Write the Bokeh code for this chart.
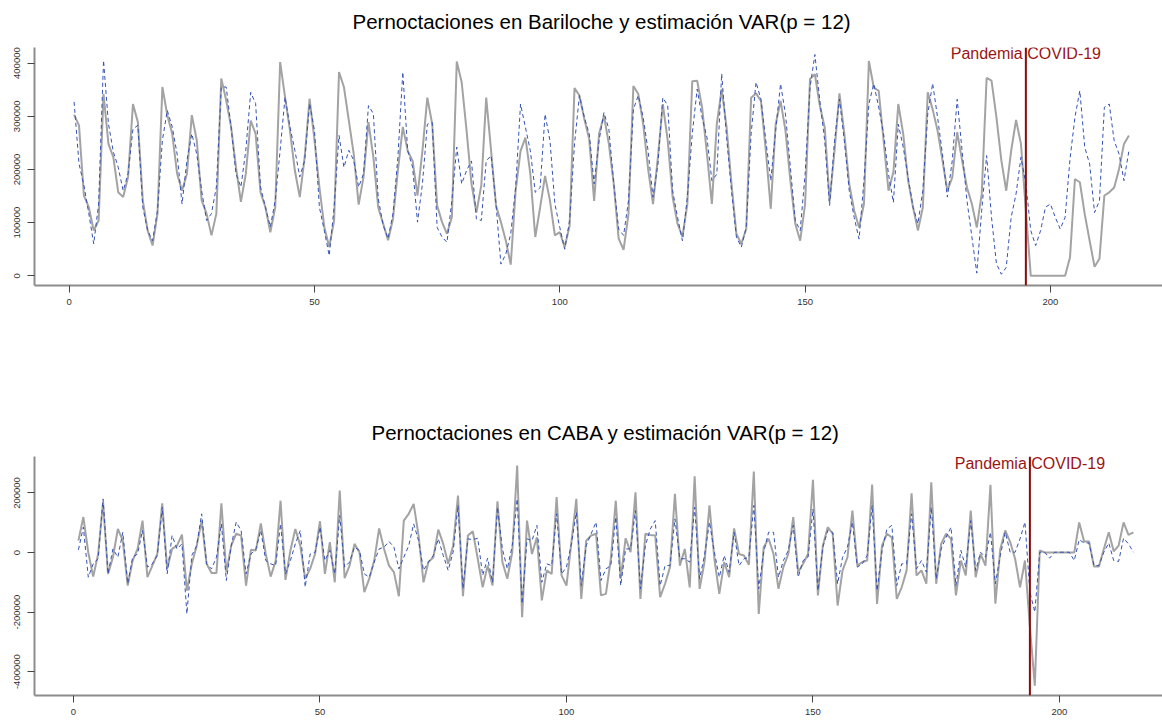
from bokeh.plotting import figure
from bokeh.layouts import column
from bokeh.models import Span, Label, FixedTicker, Range1d, NumeralTickFormatter, Title
from bokeh.embed import file_html
from bokeh.resources import INLINE

# ---------------- data ----------------
bariloche_real = [
    303000, 283000, 151000, 129000, 85000, 104000, 342000, 248000, 223000, 157000,
    148000, 186000, 323000, 289000, 142000, 85000, 57000, 117000, 355000, 302000,
    267000, 192000, 160000, 192000, 302000, 255000, 142000, 117000, 76000, 117000,
    371000, 330000, 280000, 204000, 139000, 192000, 292000, 267000, 157000, 129000,
    82000, 129000, 402000, 336000, 273000, 198000, 148000, 223000, 333000, 255000,
    167000, 92000, 54000, 104000, 383000, 355000, 292000, 229000, 134000, 186000,
    289000, 223000, 128000, 98000, 67000, 107000, 198000, 280000, 235000, 216000,
    151000, 235000, 335000, 285000, 132000, 101000, 79000, 110000, 403000, 364000,
    273000, 173000, 119000, 170000, 335000, 235000, 132000, 101000, 66000, 21000,
    160000, 235000, 260000, 191000, 73000, 129000, 188000, 141000, 76000, 82000,
    54000, 94000, 353000, 339000, 295000, 257000, 141000, 267000, 301000, 248000,
    173000, 70000, 49000, 116000, 357000, 342000, 285000, 201000, 135000, 223000,
    323000, 254000, 148000, 98000, 73000, 135000, 366000, 367000, 317000, 229000,
    135000, 285000, 351000, 279000, 173000, 79000, 60000, 88000, 335000, 343000,
    329000, 235000, 126000, 285000, 329000, 273000, 179000, 98000, 66000, 135000,
    370000, 379000, 320000, 279000, 141000, 235000, 343000, 267000, 173000, 123000,
    91000, 135000, 404000, 354000, 348000, 254000, 160000, 195000, 323000, 267000,
    179000, 129000, 85000, 129000, 345000, 313000, 273000, 217000, 160000, 185000,
    270000, 217000, 166000, 135000, 91000, 154000, 372000, 367000, 298000, 217000,
    160000, 235000, 293000, 248000, 123000, 0, 0, 0, 0, 0,
    0, 0, 0, 35000, 182000, 176000, 116000, 66000, 17000, 32000,
    151000, 157000, 166000, 201000, 248000, 264000,
]
bariloche_var = [
    327000, 211000, 170000, 117000, 60000, 135000, 405000, 286000, 233000, 204000,
    160000, 192000, 276000, 283000, 129000, 85000, 66000, 123000, 255000, 311000,
    280000, 229000, 135000, 217000, 267000, 229000, 160000, 104000, 117000, 167000,
    355000, 355000, 280000, 192000, 167000, 236000, 345000, 324000, 167000, 129000,
    92000, 142000, 236000, 336000, 280000, 236000, 186000, 217000, 324000, 273000,
    129000, 85000, 38000, 129000, 264000, 204000, 236000, 217000, 167000, 192000,
    320000, 305000, 145000, 95000, 70000, 117000, 223000, 383000, 235000, 204000,
    101000, 173000, 285000, 288000, 91000, 73000, 63000, 141000, 242000, 173000,
    198000, 216000, 107000, 104000, 216000, 226000, 135000, 22000, 41000, 79000,
    166000, 323000, 279000, 235000, 157000, 166000, 304000, 254000, 135000, 91000,
    50000, 104000, 248000, 339000, 298000, 267000, 173000, 254000, 307000, 276000,
    173000, 88000, 76000, 141000, 313000, 339000, 298000, 235000, 148000, 210000,
    335000, 320000, 160000, 110000, 66000, 148000, 267000, 351000, 298000, 260000,
    179000, 191000, 380000, 260000, 160000, 73000, 54000, 91000, 267000, 364000,
    332000, 254000, 179000, 273000, 361000, 304000, 204000, 104000, 85000, 191000,
    354000, 416000, 329000, 254000, 132000, 254000, 332000, 254000, 160000, 110000,
    69000, 179000, 323000, 361000, 317000, 267000, 191000, 138000, 285000, 242000,
    185000, 129000, 98000, 160000, 304000, 362000, 298000, 229000, 148000, 217000,
    332000, 235000, 141000, 73000, 5000, 123000, 226000, 110000, 23000, 3000,
    16000, 110000, 154000, 223000, 173000, 85000, 57000, 85000, 129000, 135000,
    110000, 88000, 110000, 220000, 298000, 348000, 242000, 210000, 119000, 141000,
    317000, 323000, 254000, 229000, 179000, 235000,
]
caba_real = [
    40000, 119000, 0, -81000, -5000, 169000, -72000, -16000, 79000, 40000,
    -111000, -27000, 12000, 107000, -83000, -44000, -5000, 165000, -55000, 12000,
    23000, 60000, -128000, -38000, 23000, 107000, -38000, -69000, -69000, 165000,
    -66000, 23000, 63000, 57000, -111000, 9000, 7000, 98000, -5000, -81000,
    -29000, 174000, -92000, 7000, 79000, 23000, -88000, -55000, -5000, 105000,
    -72000, 35000, -100000, 208000, -86000, -44000, 29000, 1000, -133000, -88000,
    -27000, 81000, 12000, -44000, -66000, -147000, 107000, 130000, 163000, 57000,
    -100000, -32000, -16000, 77000, 29000, -38000, 23000, 191000, -147000, 57000,
    71000, -21000, -117000, -44000, -111000, 172000, -32000, -88000, 1000, 292000,
    -217000, 107000, -5000, 51000, -161000, -60000, -72000, 186000, -77000, -111000,
    35000, 180000, -156000, 40000, 57000, 63000, -144000, -139000, -21000, 174000,
    -88000, 48000, 1000, 202000, -156000, 63000, 59000, 57000, -150000, -105000,
    -49000, 197000, -44000, 12000, -117000, 256000, -122000, -32000, 158000, -21000,
    -139000, -32000, -83000, 81000, -5000, -10000, -41000, 272000, -206000, 18000,
    46000, -5000, -122000, -49000, -5000, 119000, -66000, -38000, -5000, 244000,
    -144000, 23000, 85000, 63000, -178000, -60000, -16000, 141000, -44000, -32000,
    -27000, 228000, -173000, 23000, 63000, 51000, -156000, -117000, -60000, 199000,
    -77000, -60000, -105000, 236000, -105000, 29000, 63000, 46000, -144000, -27000,
    -77000, 141000, -83000, -5000, -44000, 227000, -172000, 12000, 74000, 35000,
    -21000, -117000, -27000, -250000, -447000, 7000, 0, 0, 0, 0,
    0, 0, 0, 101000, 37000, 37000, -47000, -47000, 12000, 68000,
    4000, 23000, 101000, 59000, 68000,
]
caba_var = [
    9000, 85000, -83000, -38000, -21000, 180000, -72000, 12000, -16000, 68000,
    -105000, -16000, -5000, 74000, -49000, -38000, -10000, 152000, -72000, 57000,
    12000, 29000, -206000, -10000, 23000, 130000, -38000, -55000, -16000, 96000,
    -94000, 23000, 102000, 74000, -72000, -5000, 12000, 74000, -27000, -38000,
    -44000, 96000, -72000, -27000, 29000, 74000, -116000, -5000, 0, 85000,
    -27000, 7000, -72000, 124000, -49000, -32000, 18000, 7000, -72000, -83000,
    -32000, 12000, 18000, 37000, 18000, -55000, -16000, 23000, 96000, 40000,
    -60000, -32000, -10000, 46000, -10000, -60000, 1000, 158000, -122000, 46000,
    43000, 48000, -77000, -19000, -100000, 152000, 12000, -55000, 23000, 180000,
    -172000, 46000, 40000, 91000, -100000, -38000, -44000, 130000, -72000, -49000,
    29000, 135000, -111000, 23000, 63000, 102000, -94000, -55000, -44000, 119000,
    -111000, 12000, 12000, 141000, -122000, 23000, 79000, 107000, -111000, -44000,
    -44000, 113000, -21000, -21000, -32000, 152000, -88000, -10000, 102000, 1000,
    -83000, -10000, -66000, 68000, -44000, -21000, -16000, 158000, -122000, 1000,
    68000, 68000, -83000, -27000, 7000, 91000, -83000, -27000, -16000, 146000,
    -128000, 18000, 74000, 68000, -105000, -16000, 18000, 102000, -49000, -38000,
    -10000, 158000, -128000, 7000, 79000, 91000, -111000, -38000, -38000, 130000,
    -55000, -27000, -66000, 152000, -89000, 12000, 51000, 85000, -111000, 7000,
    -49000, 107000, -60000, 1000, -16000, 68000, -105000, -10000, 68000, 1000,
    1000, 46000, 102000, -133000, -200000, 1000, 1000, -19000, 1000, 1000,
    1000, 1000, -27000, 43000, 32000, 32000, -44000, -44000, 1000, 32000,
    -27000, -30000, 48000, 29000, 1000,
]
x_ticks = [0, 50, 100, 150, 200]
y_ticks_top = [0, 100000, 200000, 300000, 400000]
y_ticks_bottom = [-400000, -200000, 0, 200000]
covid_top = 195
covid_bottom = 194
title_top = "Pernoctaciones en Bariloche y estimación VAR(p = 12)"
title_bottom = "Pernoctaciones en CABA y estimación VAR(p = 12)"
covid_text = "Pandemia COVID-19"

FONT = "Liberation Sans"


def panel(title, real, fit, covid_x, label_y, xr, yr, yticks, left, top, bottom,
          title_offset, standoff, spacer):
    p = figure(width=1162, height=360, x_range=Range1d(*xr), y_range=Range1d(*yr),
               output_backend="svg", toolbar_location=None,
               min_border_left=left, min_border_right=0,
               min_border_top=top, min_border_bottom=bottom)
    p.title = None
    if spacer:
        # invisible spacer between frame and title
        p.add_layout(Title(text=" ", text_font_size="2px", standoff=spacer,
                           text_color="white"), "above")
    p.add_layout(Title(text=title, text_font=FONT, text_font_size="20.5px",
                       text_font_style="normal", text_color="#000000",
                       align="left", offset=title_offset, standoff=standoff),
                 "above")
    p.outline_line_color = None
    p.xgrid.visible = False
    p.ygrid.visible = False
    p.background_fill_color = "white"
    p.border_fill_color = "white"

    p.line(list(range(1, len(real) + 1)), real, line_color="#a3a3a3", line_width=2)
    p.line(list(range(1, len(fit) + 1)), fit, line_color="#3352b5",
           line_width=1, line_dash="4 3")

    p.add_layout(Span(location=covid_x, dimension="height",
                      line_color="#8b0a0a", line_width=2))
    p.add_layout(Label(x=covid_x, y=label_y, text=covid_text,
                       text_align="center", text_baseline="middle",
                       text_color="#9a1515", text_font=FONT,
                       text_font_size="16px"))

    for ax in (p.xaxis[0], p.yaxis[0]):
        ax.axis_line_color = "#8c8c8c"
        ax.axis_line_width = 2
        ax.major_tick_line_color = "#444444"
        ax.major_tick_line_width = 1
        ax.major_tick_out = 7
        ax.major_tick_in = 0
        ax.minor_tick_line_color = None
        ax.major_label_text_font = FONT
        ax.major_label_text_font_size = "9.5px"
        ax.major_label_text_color = "#333333"
        ax.formatter = NumeralTickFormatter(format="0")
    p.xaxis.ticker = FixedTicker(ticks=x_ticks)
    p.xaxis.major_label_standoff = 6
    p.yaxis.ticker = FixedTicker(ticks=yticks)
    p.yaxis.major_label_orientation = "vertical"
    p.yaxis.major_label_standoff = 7
    return p


p1 = panel(title_top, bariloche_real, bariloche_var, covid_top, 418000,
           (-7.07, 222.85), (-18200, 429300), y_ticks_top,
           left=34, top=47, bottom=75, title_offset=318, standoff=2, spacer=10)
p2 = panel(title_bottom, caba_real, caba_var, covid_bottom, 300000,
           (-7.91, 220.9), (-480200, 322400), y_ticks_bottom,
           left=34, top=96, bottom=25, title_offset=337, standoff=25, spacer=0)

layout = column(p1, p2, spacing=0)
open("out.html", "w").write(file_html(layout, INLINE))
